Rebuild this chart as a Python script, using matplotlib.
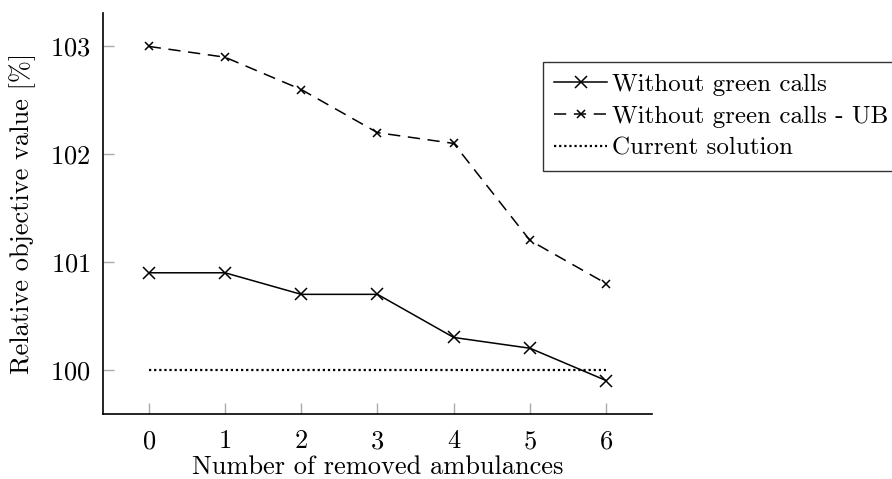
import matplotlib
matplotlib.use("Agg")
import matplotlib.pyplot as plt

plt.rcParams['font.family'] = ['cmr10', 'DejaVu Serif']
plt.rcParams['mathtext.fontset'] = 'cm'
plt.rcParams['axes.formatter.use_mathtext'] = True

removed = [0, 1, 2, 3, 4, 5, 6]
without_green = [100.9, 100.9, 100.7, 100.7, 100.3, 100.2, 99.9]
without_green_ub = [103.0, 102.9, 102.6, 102.2, 102.1, 101.2, 100.8]
current = [100, 100, 100, 100, 100, 100, 100]
yticks = [100, 101, 102, 103]

W, H = 892, 479
fig = plt.figure(figsize=(W/100, H/100), dpi=100)
L, R, T, B = 103, 652, 13, 414
ax = fig.add_axes([L/W, 1-B/H, (R-L)/W, (B-T)/H])

ax.plot(removed, without_green, color='black', lw=1.1, marker='x', ms=8, mew=1.1,
        label='Without green calls')
ax.plot(removed, without_green_ub, color='black', lw=1.1, marker='x', ms=6, mew=1.1,
        dashes=(8, 5), label='Without green calls - UB')
ax.plot(removed, current, color='black', lw=1.6, dashes=(1, 1.3),
        label='Current solution')

ax.set_xlim(-0.6, 6.6)
ax.set_ylim(99.59, 103.31)
ax.set_xticks(removed)
ax.set_yticks(yticks)
ax.spines['top'].set_visible(False)
ax.spines['right'].set_visible(False)
for s in ['left', 'bottom']:
    ax.spines[s].set_linewidth(1.2)
ax.tick_params(direction='in', length=8, width=1.0, color='#aaaaaa', labelsize=19)
ax.tick_params(axis='y', pad=9)
ax.tick_params(axis='x', pad=11)
ax.set_xlabel('Number of removed ambulances', fontsize=19, va='top')
ax.xaxis.set_label_coords(0.5, -(455 - B)/(B - T))
ax.set_ylabel('Relative objective value [%]', fontsize=19)
ax.yaxis.set_label_coords(-(L - 36)/(R - L), 0.5)

leg = fig.legend(loc='upper left', bbox_to_anchor=(543/W, 1-62/H),
                 fontsize=18, frameon=True, fancybox=False, edgecolor='black',
                 handlelength=2.1, handletextpad=0.2, borderpad=0.45,
                 labelspacing=0.38, borderaxespad=0)
leg.get_frame().set_linewidth(1.0)

fig.savefig('out.png', dpi=100)
